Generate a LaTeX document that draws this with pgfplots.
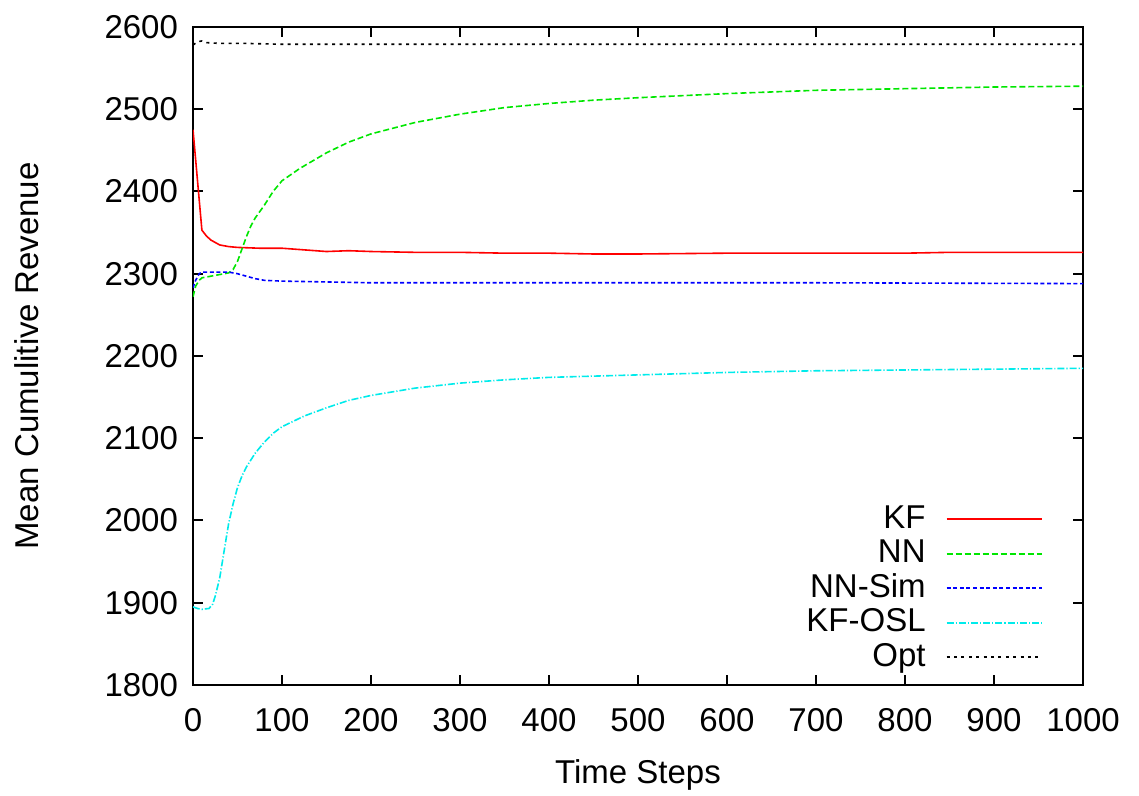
\documentclass[border=0pt]{standalone}
\usepackage{fontspec}
\setmainfont{Liberation Sans}
\usepackage{pgfplots}
\pgfplotsset{compat=1.18}
\definecolor{gpgreen}{RGB}{0,230,0}
\definecolor{gpblue}{RGB}{0,0,255}
\definecolor{gpcyan}{RGB}{0,235,235}
\begin{document}
\begin{tikzpicture}
\begin{axis}[
  scale only axis, width=445pt, height=329pt,
  xmin=0, xmax=1000, ymin=1800, ymax=2600,
  xtick={0,100,...,1000}, ytick={1800,1900,...,2600},
  tick align=inside, major tick length=5pt,
  axis line style={line width=1pt}, every tick/.style={line width=1pt, black},
  /pgf/number format/assume math mode=true,
  /pgf/number format/1000 sep={},
  tick label style={font=\fontsize{16.5}{19}\selectfont},
  xticklabel style={yshift=-8pt},
  yticklabel style={xshift=-4pt},
  label style={font=\fontsize{16.5}{19}\selectfont},
  xlabel={Time Steps}, ylabel={Mean Cumulitive Revenue},
  xlabel style={at={([yshift=-45pt]axis description cs:0.5,0)}, anchor=center},
  ylabel style={at={([xshift=-83pt]axis description cs:0,0.5)}, anchor=center},
  legend plot pos=right,
  legend cell align=right,
  legend image code/.code={\draw[#1, line width=1pt] (0pt,0pt) -- (47.5pt,0pt);},
  legend style={at={(rel axis cs:1,0)}, anchor=south east, xshift=-17pt, yshift=4.25pt,
    draw=none, fill=none, font=\fontsize{16.5}{19}\selectfont,
    nodes={inner sep=0pt, text height=12pt, text depth=3pt},
    row sep=2.25pt, /tikz/column sep=10pt},
]
\addplot[red, line width=0.8pt] coordinates {(0,2475)(10,2353)(15,2346)(20,2341)(25,2338)(30,2335)(40,2333)(50,2332)(75,2331)(100,2331)(125,2329)(150,2327)(175,2328)(200,2327)(250,2326)(300,2326)(350,2325)(400,2325)(450,2324)(500,2324)(600,2325)(700,2325)(800,2325)(850,2326)(900,2326)(1000,2326)};
\addlegendentry{KF}
\addplot[color=gpgreen, line width=0.8pt, dash pattern=on 3pt off 1.5pt] coordinates {(0,2272)(3,2285)(7,2292)(10,2295)(20,2297)(30,2299)(40,2301)(45,2305)(50,2315)(55,2330)(60,2345)(65,2358)(70,2368)(80,2383)(90,2400)(100,2413)(120,2428)(150,2447)(175,2460)(200,2470)(250,2484)(300,2494)(350,2502)(400,2507)(450,2511)(500,2514)(600,2519)(700,2523)(800,2525)(900,2527)(1000,2528)};
\addlegendentry{NN}
\addplot[color=gpblue, line width=0.8pt, dash pattern=on 2pt off 1.3pt] coordinates {(0,2283)(3,2292)(7,2300)(10,2302)(20,2302)(30,2302)(40,2302)(50,2300)(60,2297)(70,2294)(80,2292)(100,2291)(150,2290)(200,2289)(300,2289)(500,2289)(700,2289)(1000,2288)};
\addlegendentry{NN-Sim}
\addplot[color=gpcyan, line width=0.8pt, dash pattern=on 3.5pt off 1pt on 0.6pt off 1pt] coordinates {(0,1895)(5,1893)(10,1892)(18,1893)(22,1898)(25,1908)(30,1930)(35,1963)(40,1996)(45,2020)(50,2040)(55,2054)(60,2065)(70,2082)(80,2095)(90,2106)(100,2114)(125,2127)(150,2137)(175,2146)(200,2152)(250,2161)(300,2167)(350,2171)(400,2174)(500,2177)(600,2180)(700,2182)(800,2183)(900,2184)(1000,2185)};
\addlegendentry{KF-OSL}
\addplot[black, line width=0.8pt, dash pattern=on 1.5pt off 2.2pt] coordinates {(0,2578)(5,2582)(10,2583)(15,2581)(30,2580)(60,2580)(100,2579)(200,2579)(400,2579)(600,2579)(800,2579)(1000,2579)};
\addlegendentry{Opt}
\end{axis}
\pgfresetboundingbox
\path ([shift={(-96.5pt,-55.5pt)}]current axis.south west) rectangle ([shift={(28pt,13.5pt)}]current axis.north east);
\end{tikzpicture}
\end{document}
